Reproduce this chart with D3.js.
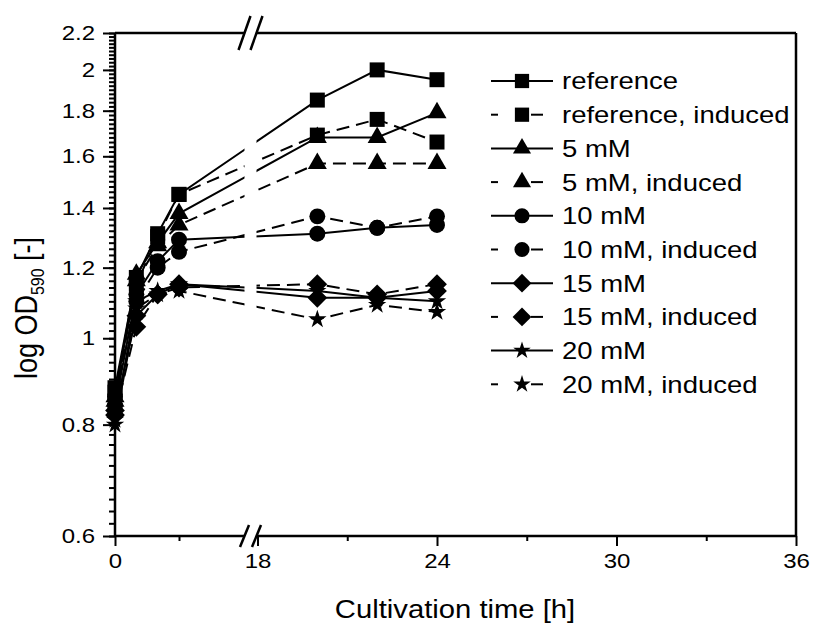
<!DOCTYPE html>
<html>
<head>
<meta charset="utf-8">
<script src="https://cdn.jsdelivr.net/npm/d3@7"></script>
<style>
  body { margin: 0; background: #fff; }
  text { font-family: "Liberation Sans", Arial, sans-serif; fill: #000; }
</style>
</head>
<body>
<svg id="chart" width="814" height="630"></svg>
<script>
// sampling times [h]
const times = [0, 1, 2, 3, 20, 22, 24];

// log OD590 per series
const refOD      = [0.88, 1.17, 1.31, 1.45, 1.85, 2.00, 1.95];
const refIndOD   = [0.87, 1.15, 1.30, 1.45, 1.69, 1.76, 1.66];
const mM5OD      = [0.86, 1.18, 1.28, 1.38, 1.68, 1.68, 1.79];
const mM5IndOD   = [0.85, 1.16, 1.27, 1.34, 1.57, 1.57, 1.57];
const mM10OD     = [0.84, 1.12, 1.22, 1.29, 1.31, 1.33, 1.34];
const mM10IndOD  = [0.86, 1.10, 1.20, 1.25, 1.37, 1.33, 1.37];
const mM15OD     = [0.83, 1.06, 1.12, 1.15, 1.11, 1.11, 1.13];
const mM15IndOD  = [0.82, 1.03, 1.12, 1.14, 1.15, 1.12, 1.15];
const mM20OD     = [0.81, 1.10, 1.13, 1.15, 1.13, 1.11, 1.10];
const mM20IndOD  = [0.80, 1.08, 1.12, 1.13, 1.05, 1.09, 1.07];

const seriesNames = ["reference", "reference, induced", "5 mM", "5 mM, induced",
  "10 mM", "10 mM, induced", "15 mM", "15 mM, induced", "20 mM", "20 mM, induced"];

const xTicks = [0, 18, 24, 30, 36];
const xMinorTicks = [3, 21, 27, 33];
const yTicks = [0.6, 0.8, 1, 1.2, 1.4, 1.6, 1.8, 2, 2.2];

const SX = 1.17; // text in the figure is stretched horizontally

let svg = d3.select("#chart");

let plotLeft = 115, plotRight = 796, plotTop = 33, plotBottom = 536;
let breakA = 244.5, breakB = 256.5;

// broken x axis: 0..6 then 18..36
let x = d3.scaleLinear().domain([0, 6, 18, 36]).range([plotLeft, 243, 257.5, plotRight]);
let y = d3.scaleLog().domain([0.6, 2.2]).range([plotBottom, plotTop]);

let symbols = [d3.symbolSquare, d3.symbolSquare, d3.symbolTriangle, d3.symbolTriangle,
  d3.symbolCircle, d3.symbolCircle, d3.symbolDiamond2, d3.symbolDiamond2, d3.symbolStar, d3.symbolStar];
let symSizes = [225, 225, 157, 157, 200, 200, 250, 250, 105, 105];
let allValues = [refOD, refIndOD, mM5OD, mM5IndOD, mM10OD, mM10IndOD, mM15OD, mM15IndOD, mM20OD, mM20IndOD];

let series = seriesNames.map(function(name, i) {
  return {
    name: name,
    dashed: i % 2 == 1,
    symbol: symbols[i],
    size: symSizes[i],
    points: times.map((t, j) => ({t: t, v: allValues[i][j]}))
  };
});

let line = d3.line().x(d => x(d.t)).y(d => y(d.v));

// lines
svg.append("g").selectAll("path")
  .data(series)
  .enter()
  .append("path")
  .attr("d", d => line(d.points))
  .attr("fill", "none")
  .attr("stroke", "#000")
  .attr("stroke-width", 2)
  .attr("stroke-dasharray", d => d.dashed ? "13,7" : null);

// gap of the axis break cuts the lines
svg.append("rect")
  .attr("x", breakA).attr("y", plotTop + 2)
  .attr("width", breakB - breakA).attr("height", plotBottom - plotTop - 4)
  .attr("fill", "#fff");

// markers
series.forEach(function(s) {
  svg.append("g").selectAll("path")
    .data(s.points)
    .enter()
    .append("path")
    .attr("d", d3.symbol().type(s.symbol).size(s.size))
    .attr("transform", d => "translate(" + x(d.t) + "," + y(d.v) + ")")
    .attr("fill", "#000");
});

// y axis
let yMinor = d3.range(30, 111).map(i => i / 50);
svg.append("g")
  .attr("transform", "translate(" + plotLeft + ",0)")
  .call(d3.axisLeft(y).tickValues(yMinor).tickSize(6).tickFormat(""))
  .call(g => g.select(".domain").remove())
  .selectAll("line").attr("stroke-width", 2);

let yAxis = svg.append("g")
  .attr("transform", "translate(" + plotLeft + ",0)")
  .call(d3.axisLeft(y).tickValues(yTicks).tickSize(12).tickPadding(8).tickFormat(d3.format("~g")))
  .call(g => g.select(".domain").remove());
yAxis.selectAll("line").attr("stroke-width", 2);
yAxis.selectAll("text")
  .attr("font-size", 20.5)
  .attr("font-family", null)
  .attr("x", -20 / SX)
  .attr("transform", "scale(" + SX + ",1)");

// x axis
svg.append("g")
  .attr("transform", "translate(0," + plotBottom + ")")
  .call(d3.axisBottom(x).tickValues(xMinorTicks).tickSize(5).tickFormat(""))
  .call(g => g.select(".domain").remove())
  .selectAll("line").attr("stroke-width", 2);

let xAxis = svg.append("g")
  .attr("transform", "translate(0," + plotBottom + ")")
  .call(d3.axisBottom(x).tickValues(xTicks).tickSize(10).tickPadding(7))
  .call(g => g.select(".domain").remove());
xAxis.selectAll("line").attr("stroke-width", 2);
xAxis.selectAll("text")
  .attr("font-size", 20.5)
  .attr("font-family", null)
  .attr("transform", "scale(" + SX + ",1)");

// frame with break
let frame = svg.append("g").attr("stroke", "#000").attr("stroke-width", 2.5);
[[plotLeft, plotTop, plotLeft, plotBottom], [plotRight, plotTop, plotRight, plotBottom],
 [plotLeft, plotTop, breakA, plotTop], [breakB, plotTop, plotRight, plotTop],
 [plotLeft, plotBottom, breakA, plotBottom], [breakB, plotBottom, plotRight, plotBottom]].forEach(function(p) {
  frame.append("line").attr("x1", p[0]).attr("y1", p[1]).attr("x2", p[2]).attr("y2", p[3]);
});
[breakA, breakB].forEach(function(bx) {
  frame.append("line").attr("x1", bx - 6).attr("y1", plotTop + 17).attr("x2", bx + 6).attr("y2", plotTop - 17);
  frame.append("line").attr("x1", bx - 4.5).attr("y1", plotBottom + 11).attr("x2", bx + 4.5).attr("y2", plotBottom - 11);
});

// axis titles
svg.append("text")
  .attr("transform", "translate(455,618) scale(" + SX + ",1)")
  .attr("text-anchor", "middle")
  .attr("font-size", 25)
  .text("Cultivation time [h]");

let yTitle = svg.append("text")
  .attr("transform", "translate(37,308) rotate(-90) scale(1," + SX + ")")
  .attr("text-anchor", "middle")
  .attr("font-size", 27);
yTitle.append("tspan").text("log OD");
yTitle.append("tspan").attr("font-size", 16).attr("dy", 6).text("590");
yTitle.append("tspan").attr("dy", -6).text(" [-]");

// legend
let legend = svg.append("g");
series.forEach(function(s, i) {
  let ly = 81 + i * 33.7;
  if (s.dashed) {
    legend.append("line").attr("x1", 491).attr("x2", 498).attr("y1", ly).attr("y2", ly)
      .attr("stroke", "#000").attr("stroke-width", 2);
    legend.append("line").attr("x1", 531).attr("x2", 543).attr("y1", ly).attr("y2", ly)
      .attr("stroke", "#000").attr("stroke-width", 2);
  } else {
    legend.append("line").attr("x1", 491).attr("x2", 553).attr("y1", ly).attr("y2", ly)
      .attr("stroke", "#000").attr("stroke-width", 2);
  }
  legend.append("path")
    .attr("d", d3.symbol().type(s.symbol).size(s.size * 0.9))
    .attr("transform", "translate(522," + ly + ")")
    .attr("fill", "#000");
  legend.append("text")
    .attr("transform", "translate(562," + ly + ") scale(" + SX + ",1)")
    .attr("dy", "0.36em")
    .attr("font-size", 23.5)
    .text(s.name);
});
</script>
</body>
</html>
